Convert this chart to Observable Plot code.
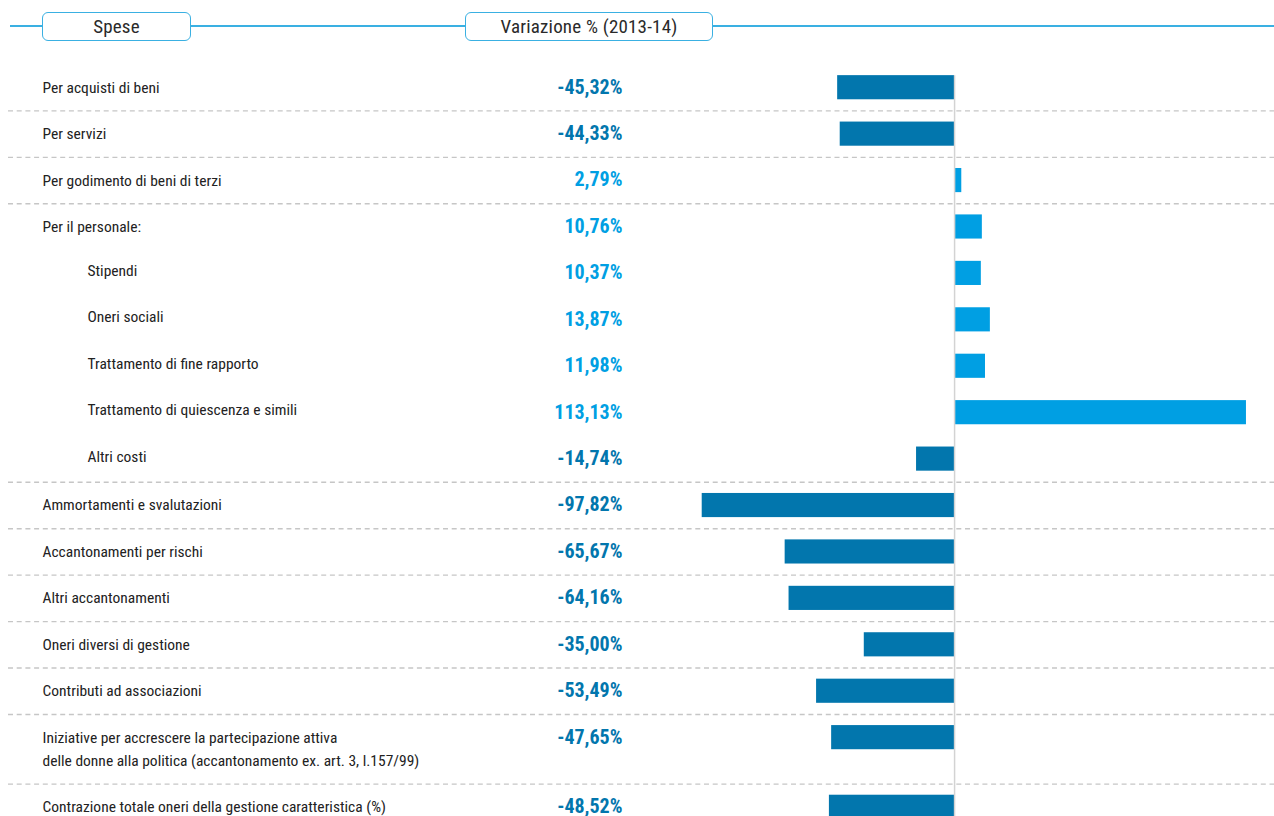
<!DOCTYPE html>
<html>
<head>
<meta charset="utf-8">
<script src="https://cdn.jsdelivr.net/npm/d3@7"></script>
<script src="https://cdn.jsdelivr.net/npm/@observablehq/plot@0.6"></script>
<style>
  html, body { margin: 0; padding: 0; background: #fff; width: 1274px; height: 816px; overflow: hidden; }
  #header { position: relative; height: 52px; width: 1274px; }
  #header .line { position: absolute; left: 10px; right: 0; top: 25px; height: 1.5px; background: #3ab0e2; }
  #header .box { position: absolute; top: 12px; height: 29px; box-sizing: border-box; border: 1.5px solid #3ab0e2;
    border-radius: 6px; background: #fff; font-family: "Roboto Condensed", "Liberation Sans", sans-serif;
    font-size: 19px; color: #2a2a2a; text-align: center; line-height: 27px; letter-spacing: 0.2px; }
  #chart svg { display: block; }
</style>
</head>
<body>
<div id="header">
  <div class="line"></div>
  <div class="box" id="h1" style="left:42px; width:149px;"></div>
  <div class="box" id="h2" style="left:465px; width:248px;"></div>
</div>
<div id="chart"></div>
<script>
const headers = ["Spese", "Variazione % (2013-14)"];

const labels = [
  "Per acquisti di beni",
  "Per servizi",
  "Per godimento di beni di terzi",
  "Per il personale:",
  "Stipendi",
  "Oneri sociali",
  "Trattamento di fine rapporto",
  "Trattamento di quiescenza e simili",
  "Altri costi",
  "Ammortamenti e svalutazioni",
  "Accantonamenti per rischi",
  "Altri accantonamenti",
  "Oneri diversi di gestione",
  "Contributi ad associazioni",
  "Iniziative per accrescere la partecipazione attiva\ndelle donne alla politica (accantonamento ex. art. 3, l.157/99)",
  "Contrazione totale oneri della gestione caratteristica (%)"
];
const values = [-45.32, -44.33, 2.79, 10.76, 10.37, 13.87, 11.98, 113.13, -14.74, -97.82, -65.67, -64.16, -35.00, -53.49, -47.65, -48.52];
const levels = [0, 0, 0, 0, 1, 1, 1, 1, 1, 0, 0, 0, 0, 0, 0, 0];

document.getElementById("h1").textContent = headers[0];
document.getElementById("h2").textContent = headers[1];

// row layout: each row takes 1 unit, plus half a unit per extra text line
let acc = 0;
const rows = labels.map((label, i) => {
  const lines = label.split("\n").length;
  const h = 1 + 0.5 * (lines - 1);
  const r = {label, lines, value: values[i], level: levels[i], top: acc, center: acc + 0.5, index: i};
  acc += h;
  return r;
});
const separators = rows.filter(r => r.level === 0 && r.index > 0);

const darkBlue = "#0276ad";
const lightBlue = "#009fe3";
const half = 0.26;
const lineShift = 0.25; // half a text line, in row units
const fmt = v => v.toFixed(2).replace(".", ",") + "%";
const font = "Roboto Condensed, Liberation Sans, sans-serif";

const chart = Plot.plot({
  width: 1274,
  height: 778,
  marginLeft: 8,
  marginRight: 0,
  marginTop: 12,
  marginBottom: 0,
  x: {domain: [-366.7, 124], axis: null},
  y: {domain: [0, 16.5], reverse: true, axis: null},
  style: {background: "transparent", overflow: "visible"},
  marks: [
    Plot.ruleY(separators, {y: "top", stroke: "#c6c6c6", strokeWidth: 1.4, strokeDasharray: "5,3.7"}),
    Plot.rect(rows, {
      x1: 0, x2: "value",
      y1: d => d.center - half, y2: d => d.center + half,
      fill: d => d.value < 0 ? darkBlue : lightBlue
    }),
    Plot.ruleX([0], {y1: rows[0].center - half, y2: 16.5, stroke: "#d3d3d3", strokeWidth: 1.5}),
    Plot.text(rows.filter(r => r.level === 0), {
      text: "label", y: d => d.center + (d.lines - 1) * lineShift, frameAnchor: "left", dx: 34, dy: -2.5,
      textAnchor: "start", lineAnchor: "middle", lineHeight: 1.5,
      fontFamily: font, fontSize: 15.5, fill: "#222"
    }),
    Plot.text(rows.filter(r => r.level === 1), {
      text: "label", y: "center", frameAnchor: "left", dx: 79, dy: -2.5,
      textAnchor: "start", lineAnchor: "middle",
      fontFamily: font, fontSize: 15.5, fill: "#222"
    }),
    Plot.text(rows, {
      text: d => fmt(d.value), y: "center", frameAnchor: "left", dx: 614, dy: -0.5,
      textAnchor: "end", lineAnchor: "middle",
      fontFamily: font, fontWeight: "bold", fontSize: 20,
      fill: d => d.value < 0 ? darkBlue : lightBlue
    })
  ]
});
document.getElementById("chart").append(chart);
</script>
</body>
</html>
